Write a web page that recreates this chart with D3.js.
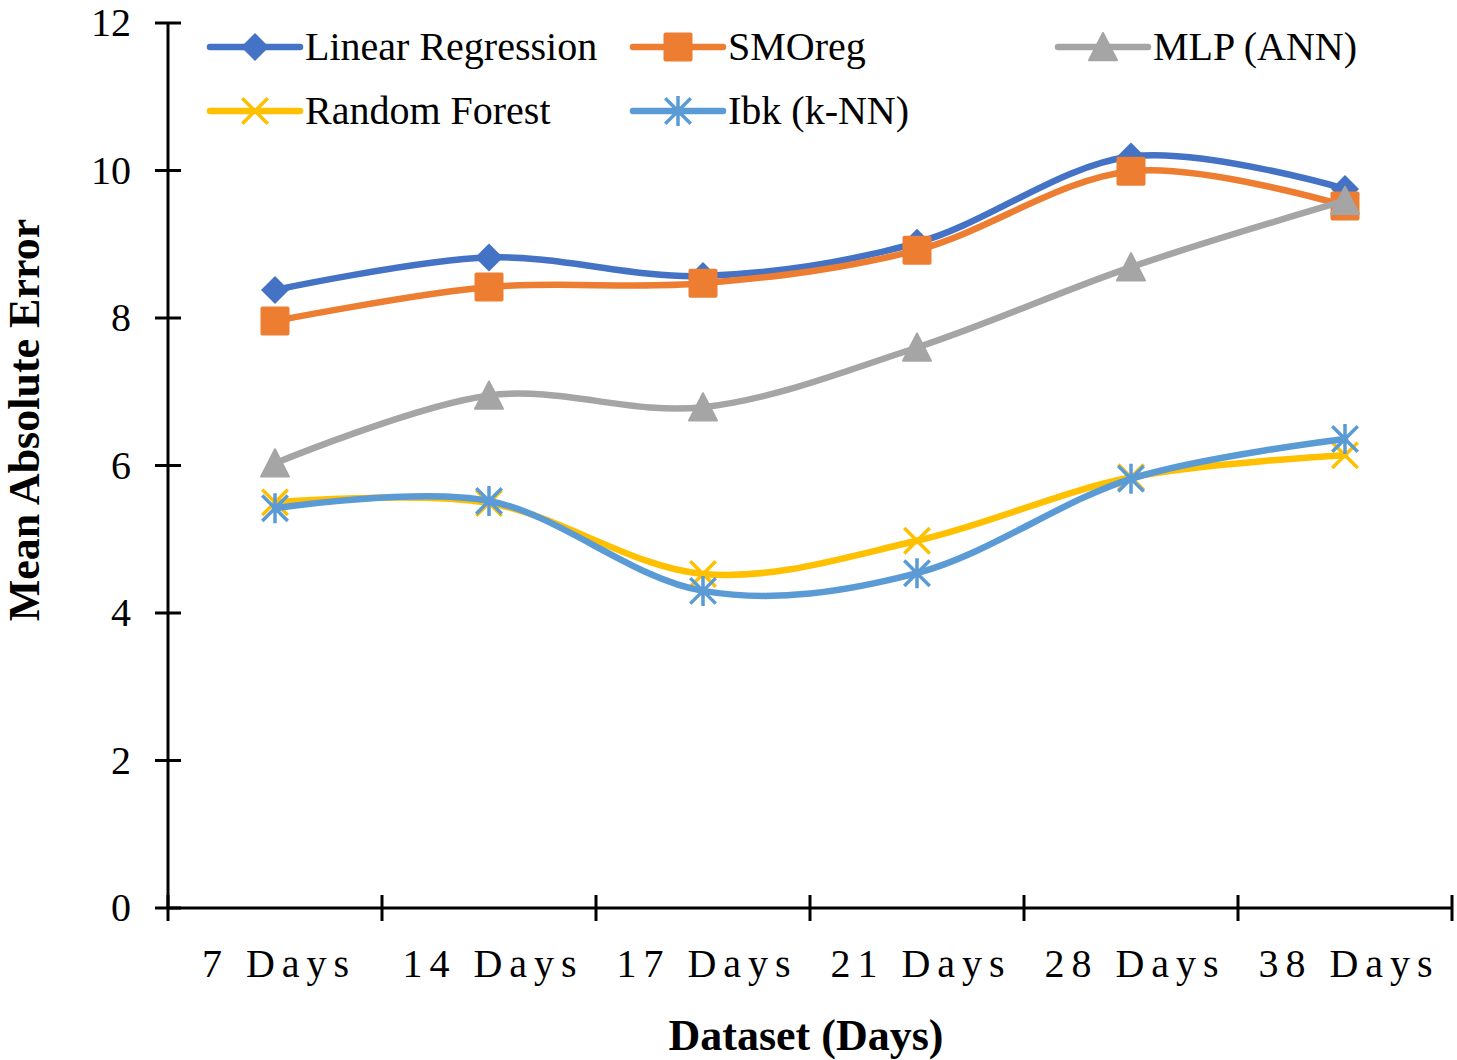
<!DOCTYPE html>
<html>
<head>
<meta charset="utf-8">
<script src="https://cdn.jsdelivr.net/npm/d3@7/dist/d3.min.js"></script>
<style>
  body { margin: 0; background: #fff; }
  text { font-family: "Liberation Serif", "Times New Roman", serif; fill: #000; }
</style>
</head>
<body>
<div id="chart"></div>
<script>
const categories = ["7 Days", "14 Days", "17 Days", "21 Days", "28 Days", "38 Days"];
const linearRegression = [8.38, 8.82, 8.57, 9.02, 10.19, 9.75];
const smoReg = [7.96, 8.42, 8.47, 8.92, 9.99, 9.52];
const mlp = [6.03, 6.95, 6.79, 7.6, 8.69, 9.59];
const randomForest = [5.5, 5.49, 4.53, 4.98, 5.84, 6.14];
const ibk = [5.42, 5.52, 4.3, 4.54, 5.82, 6.36];
const yTicks = [0, 2, 4, 6, 8, 10, 12];

const series = [
  { name: "Linear Regression", values: linearRegression, color: "#4472C4", marker: "diamond" },
  { name: "SMOreg", values: smoReg, color: "#ED7D31", marker: "square" },
  { name: "MLP (ANN)", values: mlp, color: "#A5A5A5", marker: "triangle" },
  { name: "Random Forest", values: randomForest, color: "#FFC000", marker: "x" },
  { name: "Ibk (k-NN)", values: ibk, color: "#5B9BD5", marker: "star" }
];

const WIDTH = 1457;
const HEIGHT = 1060;
const plotLeft = 168, plotRight = 1452, plotTop = 23, plotBottom = 908;

const svg = d3.select("#chart").append("svg")
    .attr("width", WIDTH)
    .attr("height", HEIGHT);

const x = d3.scaleBand().domain(categories).range([plotLeft, plotRight]);
const y = d3.scaleLinear().domain([0, 12]).range([plotBottom, plotTop]);

// axes
svg.append("line").attr("x1", plotLeft).attr("x2", plotLeft).attr("y1", plotTop).attr("y2", plotBottom)
    .attr("stroke", "#000").attr("stroke-width", 3);
svg.append("line").attr("x1", plotLeft).attr("x2", plotRight).attr("y1", plotBottom).attr("y2", plotBottom)
    .attr("stroke", "#000").attr("stroke-width", 3);

svg.selectAll(".ytick").data(yTicks).enter().append("line")
    .attr("x1", plotLeft - 13).attr("x2", plotLeft + 13)
    .attr("y1", d => y(d)).attr("y2", d => y(d))
    .attr("stroke", "#000").attr("stroke-width", 3);
svg.selectAll(".ylab").data(yTicks).enter().append("text")
    .attr("x", 131).attr("y", d => y(d) + 13)
    .attr("text-anchor", "end").attr("font-size", 40)
    .text(d => d);

const xEdges = categories.map(c => x(c)).concat([plotRight]);
svg.selectAll(".xtick").data(xEdges).enter().append("line")
    .attr("x1", d => d).attr("x2", d => d)
    .attr("y1", plotBottom - 13).attr("y2", plotBottom + 13)
    .attr("stroke", "#000").attr("stroke-width", 3);
svg.selectAll(".xlab").data(categories).enter().append("text")
    .attr("x", d => x(d) + x.bandwidth() / 2 + 4).attr("y", 977)
    .attr("text-anchor", "middle").attr("font-size", 40)
    .attr("letter-spacing", 7)
    .text(d => d);

svg.append("text").attr("x", 806).attr("y", 1050).attr("text-anchor", "middle")
    .attr("font-size", 44).attr("font-weight", "bold").text("Dataset (Days)");
svg.append("text").attr("transform", "translate(39,420) rotate(-90)").attr("text-anchor", "middle")
    .attr("font-size", 44).attr("font-weight", "bold").text("Mean Absolute Error");

// markers
function drawMarker(g, type, color, size) {
  const s = size / 2;
  if (type === "diamond") {
    g.append("path").attr("d", `M0,${-s}L${s},0L0,${s}L${-s},0Z`).attr("fill", color);
  } else if (type === "square") {
    g.append("rect").attr("x", -s).attr("y", -s).attr("width", size).attr("height", size)
        .attr("rx", 2).attr("fill", color);
  } else if (type === "triangle") {
    g.append("path").attr("d", `M0,${-s}L${s},${s * 0.95}L${-s},${s * 0.95}Z`)
        .attr("fill", color).attr("stroke", color).attr("stroke-width", 2).attr("stroke-linejoin", "round");
  } else if (type === "x") {
    const a = s * 0.85;
    g.append("path").attr("d", `M${-a},${-a}L${a},${a}M${-a},${a}L${a},${-a}`)
        .attr("stroke", color).attr("stroke-width", 3.5).attr("fill", "none");
  } else if (type === "star") {
    const a = s * 0.85;
    g.append("path").attr("d", `M${-a},${-a}L${a},${a}M${-a},${a}L${a},${-a}M0,${-s}L0,${s}`)
        .attr("stroke", color).attr("stroke-width", 3.5).attr("fill", "none");
  }
}

const markerSize = { diamond: 28, square: 29, triangle: 28, x: 30, star: 30 };

const line = d3.line()
    .x((d, i) => x(categories[i]) + x.bandwidth() / 2)
    .y(d => y(d))
    .curve(d3.curveCatmullRom.alpha(0));

series.forEach(s => {
  const g = svg.append("g");
  g.append("path").datum(s.values)
      .attr("d", line)
      .attr("fill", "none")
      .attr("stroke", s.color)
      .attr("stroke-width", 6.5)
      .attr("stroke-linecap", "round");
  s.values.forEach((v, i) => {
    const m = g.append("g").attr("transform",
        `translate(${x(categories[i]) + x.bandwidth() / 2},${y(v)})`);
    drawMarker(m, s.marker, s.color, markerSize[s.marker]);
  });
});

// legend
const legendPos = [[207, 47], [630, 47], [1055, 47], [207, 111], [630, 111]];
series.forEach((s, i) => {
  const [lx, ly] = legendPos[i];
  const g = svg.append("g").attr("transform", `translate(${lx},${ly})`);
  g.append("line").attr("x1", 3).attr("x2", 93).attr("y1", 0).attr("y2", 0)
      .attr("stroke", s.color).attr("stroke-width", 6.5).attr("stroke-linecap", "round");
  const m = g.append("g").attr("transform", "translate(48,0)");
  drawMarker(m, s.marker, s.color, markerSize[s.marker]);
  g.append("text").attr("x", 98).attr("y", 13).attr("font-size", 40).text(s.name);
});
</script>
</body>
</html>
